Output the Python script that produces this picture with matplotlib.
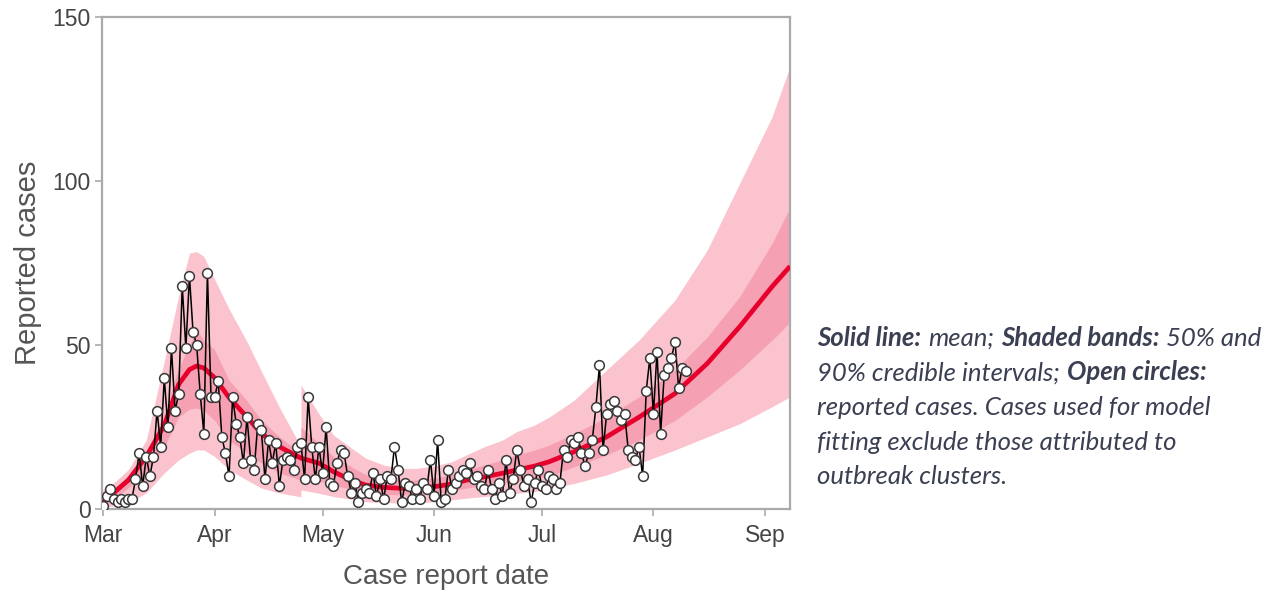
import numpy as np
import matplotlib
matplotlib.use("Agg")
import matplotlib.pyplot as plt

# --- Reported daily cases, day 0 = 1 March ---
cases = [
    # Mar
    1, 4, 6, 3, 2, 3, 2, 3, 3, 9,
    17, 7, 16, 10, 16, 30, 19, 40, 25, 49,
    30, 35, 68, 49, 71, 54, 50, 35, 23, 72,
    34,
    # Apr
    34, 39, 22, 17, 10, 34, 26, 22, 14, 28,
    15, 12, 26, 24, 9, 21, 14, 20, 7, 15,
    16, 15, 12, 19, 20, 9, 34, 19, 9, 19,
    # May
    11, 25, 8, 7, 14, 18, 17, 10, 5, 8,
    2, 5, 6, 5, 11, 4, 9, 3, 10, 9,
    19, 12, 2, 8, 7, 3, 6, 3, 8, 6,
    15,
    # Jun
    4, 21, 2, 3, 12, 6, 8, 10, 12, 11,
    14, 9, 10, 7, 6, 12, 6, 3, 8, 4,
    15, 5, 9, 18, 12, 7, 9, 2, 8, 12,
    # Jul
    7, 6, 10, 9, 6, 8, 18, 16, 21, 20,
    22, 17, 13, 17, 21, 31, 44, 18, 29, 32,
    33, 30, 27, 29, 18, 16, 15, 19, 10, 36,
    46,
    # Aug
    29, 48, 23, 41, 43, 46, 51, 37, 43, 42,
]
case_day = list(range(len(cases)))

# --- Model fit: mean and credible intervals (day 55 repeated = step in model) ---
band_day = [0, 3, 7, 12, 17, 21, 24, 26, 28, 31,
            35, 40, 44, 49, 55, 55, 60, 64, 69, 73,
            78, 83, 87, 92, 97, 101, 106, 111, 115, 120,
            124, 131, 140, 149, 159, 168, 177, 186, 191]
mean_line = [2, 5, 8.8, 16, 25.5, 38, 42.5, 43.6, 43, 40,
             34, 28, 23, 19, 15.5, 15.5, 14, 11.4, 8.8, 7.3,
             6.6, 6.3, 6.3, 6.8, 7.6, 8.8, 9.8, 10.9, 11.9, 13.1,
             14.4, 17.5, 22, 28, 35.2, 44.4, 55.6, 67.8, 74]
upper50 = [3, 6, 10, 17, 29, 43, 50, 54.6, 51.5, 48.5,
           39.3, 33, 27, 22, 17, 25, 20, 16, 12.9, 10.4,
           9.4, 8.8, 8.8, 9.4, 10.4, 11.9, 13.4, 15, 16.5, 18,
           19.5, 23, 28, 34.2, 42.4, 52.5, 64.8, 81, 92]
lower50 = [1, 3, 6.5, 11, 19, 28, 30.5, 30.8, 30, 27,
           21, 17, 14, 11, 8.8, 9.8, 8.5, 7.3, 6, 4.8,
           4.5, 4.3, 4.5, 4.8, 5.5, 6.4, 7.2, 7.9, 8.6, 9.4,
           10, 12.9, 16.5, 21, 27, 34.2, 42.4, 51.5, 57]
upper90 = [6, 8, 12, 21, 45, 65, 78, 78.5, 77, 70,
           61, 51, 42, 31, 19, 37.8, 29, 22.6, 18.6, 15.5,
           13.4, 12.4, 12.4, 13.1, 14.4, 16.5, 19, 21, 23.6, 25.6,
           28, 33.2, 42.4, 51.5, 63.7, 79, 99.3, 119.6, 135]
lower90 = [0.5, 1, 1.8, 4.9, 11, 15, 17, 18, 18, 16,
           12, 8.8, 6.4, 4.9, 3.7, 5.8, 4.8, 3.8, 3, 2.2,
           2, 1.8, 1.8, 2.2, 2.8, 3.3, 3.8, 4.3, 4.8, 5.3,
           6.3, 7.8, 10.4, 13.9, 18, 22, 26, 31.2, 34.2]

month_day = [0, 31, 61, 92, 122, 153, 184]
month_labels = ["Mar", "Apr", "May", "Jun", "Jul", "Aug", "Sep"]

note_lines = [
    [("Solid line:", True), ("mean;", False), ("Shaded bands:", True), ("50% and", False)],
    [("90% credible intervals;", False), ("Open circles:", True)],
    [("reported cases. Cases used for model", False)],
    [("fitting exclude those attributed to", False)],
    [("outbreak clusters.", False)],
]

plt.rcParams["font.family"] = ["Liberation Sans", "DejaVu Sans"]

fig = plt.figure(figsize=(12.82, 5.92), dpi=100)
ax = fig.add_axes([0.0796, 0.1402, 0.5367, 0.8311])

ax.fill_between(band_day, lower90, upper90, color="#fac3ce", lw=0, zorder=1)
ax.fill_between(band_day, lower50, upper50, color="#f5a0b3", lw=0, zorder=2)
ax.plot(band_day, mean_line, color="#e8002d", lw=3.4, zorder=3, solid_capstyle="butt")
ax.plot(case_day, cases, color="black", lw=1.1, zorder=4,
        marker="o", ms=7, mfc="white", mec="#3a3a3a", mew=1.1)

ax.set_xlim(-0.3, 191)
ax.set_ylim(0, 150)
ax.set_yticks([0, 50, 100, 150])
ax.set_xticks(month_day)
ax.set_xticklabels(month_labels)

for s in ax.spines.values():
    s.set_color("#aaaaaa")
    s.set_linewidth(1.6)
ax.tick_params(axis="both", colors="#aaaaaa", length=5, width=1.2,
               labelcolor="#444444", labelsize=16.5, pad=3)
ax.tick_params(axis="x", pad=6)

ax.set_ylabel("Reported cases", fontsize=21, color="#555555", labelpad=8)
ax.set_xlabel("Case report date", fontsize=20, color="#555555", labelpad=12)

# --- Right-hand note: mixed bold / italic runs ---
note_font = ["Lato", "DejaVu Sans"]
note_color = "#3a3f52"
note_size = 18.5
line_gap = 34.5 / 592
y0 = 1 - 350 / 592
for i, segs in enumerate(note_lines):
    y = y0 - i * line_gap
    prev = None
    for text, bold in segs:
        kw = dict(fontsize=note_size, color=note_color, style="italic",
                  weight="bold" if bold else "normal", family=note_font,
                  va="bottom", ha="left")
        if prev is None:
            prev = fig.text(817 / 1282, y, text, **kw)
        else:
            prev = ax.annotate(text, xy=(1, 0), xycoords=prev, xytext=(5, 0),
                               textcoords="offset points", annotation_clip=False, **kw)

fig.savefig("out.png", dpi=100)
